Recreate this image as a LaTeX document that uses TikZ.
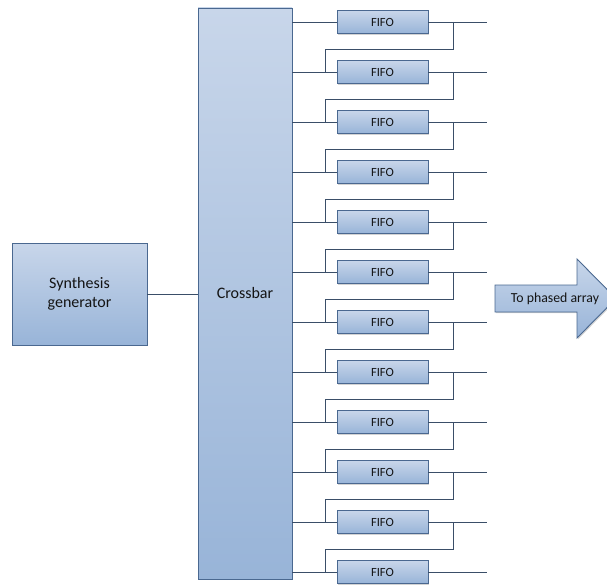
\documentclass[tikz,border=0pt]{standalone}
\usepackage{fontspec}
\setmainfont{Carlito}
\usetikzlibrary{shadows}
\definecolor{boxtop}{HTML}{C8D6EA}
\definecolor{boxbot}{HTML}{98B4D8}
\definecolor{boxedge}{HTML}{4A6890}
\definecolor{wire}{HTML}{3A4E68}
\definecolor{txt}{HTML}{141414}
\begin{document}
\begin{tikzpicture}[x=1pt,y=-1pt,
  blk/.style={draw=boxedge, line width=0.9pt, top color=boxtop, bottom color=boxbot,
    drop shadow={shadow xshift=1.2pt, shadow yshift=-1.2pt, opacity=0.35},
    inner sep=0pt, text=txt},
  fifo/.style={blk, minimum width=91pt, minimum height=23pt, font=\fontsize{12.5}{14}\selectfont},
  wireline/.style={draw=wire, line width=0.8pt}]
\useasboundingbox (0,0) rectangle (607,585);
\begin{scope}
\clip (0,0) rectangle (607,585);

% synthesis generator
\node[blk, minimum width=135pt, minimum height=102pt, align=center,
  font=\fontsize{16}{19}\selectfont] (synth) at (79.5,294) {Synthesis\\generator};

% crossbar
\node[blk, minimum width=94pt, minimum height=571pt,
  font=\fontsize{16}{19}\selectfont] (xbar) at (245,293.5) {Crossbar};

\draw[wireline] (synth.east) -- (xbar.west |- synth.east);

% FIFOs
\foreach \i in {1,...,12}{
  \pgfmathsetmacro{\yy}{22+50*(\i-1)}
  \node[fifo] (fifo\i) at (382.5,\yy) {FIFO};
  \coordinate (out\i) at (487,\yy);
  \draw[wireline] (xbar.east |- fifo\i.west) -- (fifo\i.west);
  \draw[wireline] (fifo\i.east) -- (out\i);
}
\foreach \i [evaluate=\i as \j using int(\i+1)] in {1,...,11}{
  \pgfmathsetmacro{\yy}{22+50*(\i-1)}
  \coordinate (ta\i) at (453,\yy);
  \coordinate (tb\i) at (453,\yy+27);
  \coordinate (tc\i) at (325,\yy+27);
  \draw[wireline] (ta\i) -- (tb\i) -- (tc\i) -- (tc\i |- fifo\j.west);
}

% arrow
\path[blk] (495,285) -- (577,285) -- (577,259) -- (616,298.5) -- (577,338)
  -- (577,312) -- (495,312) -- cycle;
\node[text=txt, font=\fontsize{13.8}{16}\selectfont] (arrtxt) at (555,298.5) {To phased array};
\end{scope}
\end{tikzpicture}
\end{document}
